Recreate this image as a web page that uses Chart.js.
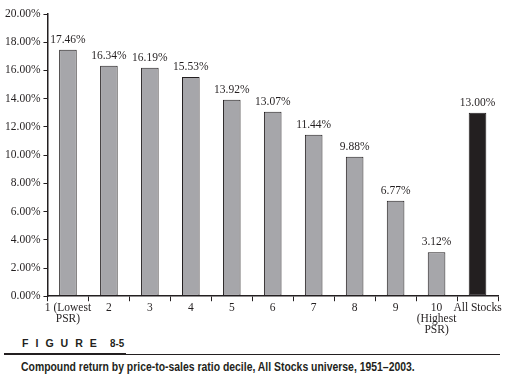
<!DOCTYPE html>
<html>
<head>
<meta charset="utf-8">
<script src="https://cdn.jsdelivr.net/npm/chart.js@4/dist/chart.umd.min.js"></script>
<style>
  html, body { margin: 0; padding: 0; background: #fff; }
  body { width: 525px; height: 383px; position: relative; overflow: hidden; }
  #wrap { position: absolute; left: 0; top: 0; width: 525px; height: 336px; }
  .sans { font-family: "Liberation Sans Narrow", "Liberation Sans", Arial, sans-serif; font-weight: bold; color: #231f20; white-space: nowrap; }
  #fig { position: absolute; left: 22px; top: 337px; font-size: 11.5px; letter-spacing: 7.6px; transform: scaleX(0.92); transform-origin: left top; }
  #fignum { position: absolute; left: 110px; top: 337px; font-size: 11.5px; transform: scaleX(0.85); transform-origin: left top; }
  #thick { position: absolute; left: 4px; top: 353px; width: 122px; height: 2px; background: #231f20; }
  #thin { position: absolute; left: 126px; top: 354px; width: 374px; height: 1px; background: #231f20; }
  #cap { position: absolute; left: 21px; top: 360px; font-size: 12.5px; transform-origin: left top; }
</style>
</head>
<body>
<div id="wrap"><canvas id="c"></canvas></div>
<div id="fig" class="sans">FIGURE</div>
<div id="fignum" class="sans">8-5</div>
<div id="thick"></div>
<div id="thin"></div>
<div id="cap" class="sans">Compound return by price-to-sales ratio decile, All Stocks universe, 1951–2003.</div>
<script>
const categories = [["1 (Lowest", "PSR)"], "2", "3", "4", "5", "6", "7", "8", "9", ["10", "(Highest", "PSR)"], "All Stocks"];
const returns = [17.46, 16.34, 16.19, 15.53, 13.92, 13.07, 11.44, 9.88, 6.77, 3.12, 13.00];
const barColors = ["#a6a6aa","#a6a6aa","#a6a6aa","#a6a6aa","#a6a6aa","#a6a6aa","#a6a6aa","#a6a6aa","#a6a6aa","#a6a6aa","#231f20"];
const yTicks = [0, 2, 4, 6, 8, 10, 12, 14, 16, 18, 20];

const serif = '"Liberation Serif", "DejaVu Serif", serif';

// condense caption to the reference width
const cap = document.getElementById('cap');
cap.style.transform = 'scaleX(' + (394 / cap.scrollWidth) + ')';

const labelPlugin = {
  id: 'barLabels',
  afterDatasetsDraw(chart) {
    const ctx = chart.ctx;
    const meta = chart.getDatasetMeta(0);
    ctx.save();
    ctx.font = '11.5px ' + serif;
    ctx.fillStyle = '#231f20';
    ctx.textAlign = 'center';
    ctx.textBaseline = 'bottom';
    meta.data.forEach((bar, i) => {
      ctx.fillText(returns[i].toFixed(2) + '%', bar.x, bar.y - 4);
    });
    ctx.restore();
  }
};

new Chart(document.getElementById('c'), {
  type: 'bar',
  data: {
    labels: categories,
    datasets: [{
      data: returns,
      backgroundColor: barColors,
      borderColor: '#231f20',
      borderWidth: 1,
      borderSkipped: false,
      barPercentage: 0.43,
      categoryPercentage: 1.0
    }]
  },
  options: {
    responsive: true,
    maintainAspectRatio: false,
    animation: false,
    layout: { padding: { left: 2, right: 27, top: 14, bottom: 0 } },
    plugins: { legend: { display: false }, tooltip: { enabled: false } },
    scales: {
      x: {
        offset: true,
        grid: { display: true, drawOnChartArea: false, drawTicks: true, tickLength: 5, color: '#231f20', offset: true },
        border: { display: true, color: '#231f20', width: 1.5 },
        ticks: { color: '#231f20', font: { family: serif, size: 11.5, lineHeight: 0.95 }, maxRotation: 0, autoSkip: false, padding: 1 }
      },
      y: {
        min: 0, max: 20,
        afterBuildTicks(axis) { axis.ticks = yTicks.map(v => ({ value: v })); },
        grid: { display: true, drawOnChartArea: false, drawTicks: true, tickLength: 4, color: '#231f20' },
        border: { display: true, color: '#231f20', width: 1.5 },
        ticks: { color: '#231f20', font: { family: serif, size: 11.5 }, padding: 3, callback: v => v.toFixed(2) + '%' }
      }
    }
  },
  plugins: [labelPlugin]
});
</script>
</body>
</html>
